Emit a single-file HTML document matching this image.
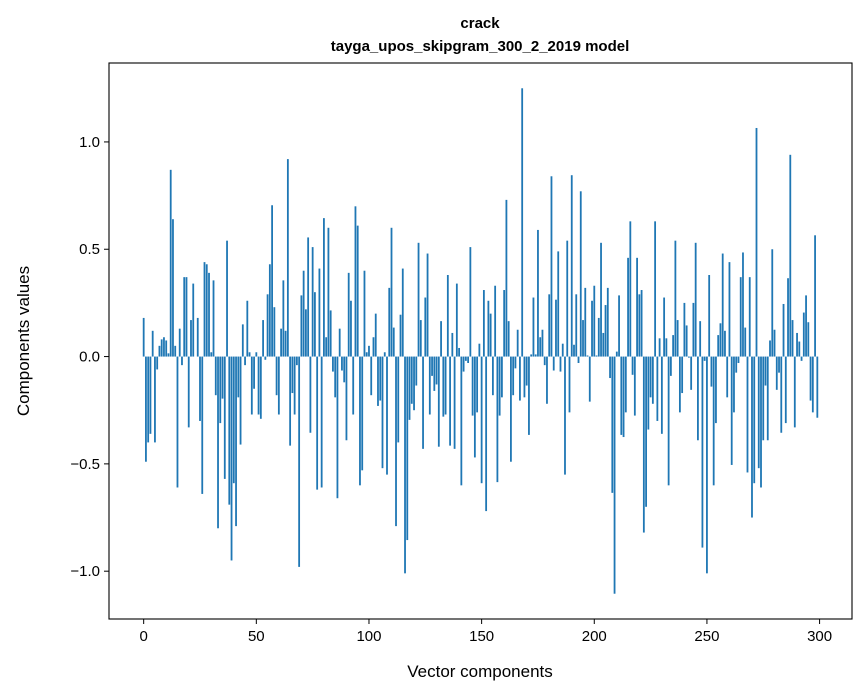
<!DOCTYPE html>
<html><head><meta charset="utf-8"><style>
body{margin:0;background:#fff;}
svg{display:block;font-family:"Liberation Sans",Arial,sans-serif;}
</style></head><body>
<svg id="chart" width="867" height="696" viewBox="0 0 867 696">
<rect width="867" height="696" fill="#fff"/>
<text x="480" y="28" text-anchor="middle" font-size="15" font-weight="bold">crack</text>
<text x="480" y="51" text-anchor="middle" font-size="15" font-weight="bold">tayga_upos_skipgram_300_2_2019 model</text>
<g id="bars"></g>
<g id="axes"></g>
<text x="480" y="677" text-anchor="middle" font-size="17">Vector components</text>
<text transform="translate(29,341) rotate(-90)" text-anchor="middle" font-size="17">Components values</text>
</svg>
<script>
const values = [0.18,-0.49,-0.40,-0.36,0.12,-0.40,-0.06,0.05,0.08,0.09,0.075,0.015,0.87,0.64,0.05,-0.61,0.13,-0.04,0.37,0.37,-0.33,0.17,0.34,0.0,0.18,-0.30,-0.64,0.44,0.43,0.39,0.02,0.355,-0.18,-0.80,-0.31,-0.196,-0.57,0.54,-0.69,-0.95,-0.59,-0.79,-0.19,-0.41,0.15,-0.04,0.26,0.02,-0.27,-0.15,
0.02,-0.27,-0.29,0.17,-0.015,0.29,0.43,0.705,0.23,-0.18,-0.27,0.13,0.355,0.12,0.92,-0.415,-0.17,-0.27,-0.04,-0.98,0.285,0.40,0.22,0.555,-0.355,0.51,0.30,-0.62,0.41,-0.61,0.645,0.09,0.60,0.215,-0.07,-0.19,-0.66,0.13,-0.065,-0.12,-0.39,0.39,0.26,-0.27,0.70,0.61,-0.60,-0.53,0.40,0.02,
0.05,-0.18,0.09,0.20,-0.23,-0.205,-0.52,0.02,-0.55,0.32,0.60,0.135,-0.79,-0.40,0.195,0.41,-1.01,-0.855,-0.295,-0.22,-0.25,-0.135,0.53,0.17,-0.43,0.275,0.48,-0.27,-0.09,-0.16,-0.13,-0.42,0.165,-0.28,-0.27,0.38,-0.415,0.11,-0.43,0.34,0.04,-0.60,-0.07,-0.02,-0.03,0.51,-0.275,-0.47,-0.26,0.06,
-0.59,0.31,-0.72,0.26,0.20,-0.18,0.33,-0.585,-0.275,-0.19,0.31,0.73,0.165,-0.49,-0.18,-0.055,0.125,-0.205,1.25,-0.19,-0.135,-0.365,0.01,0.275,0.01,0.59,0.09,0.125,-0.04,-0.22,0.29,0.84,-0.065,0.265,0.49,-0.07,0.06,-0.55,0.54,-0.26,0.845,0.055,0.29,-0.03,0.77,0.17,0.32,0.005,-0.21,0.26,
0.33,0.005,0.18,0.53,0.11,0.24,0.32,-0.10,-0.635,-1.105,0.023,0.285,-0.365,-0.375,-0.26,0.46,0.63,-0.085,-0.275,0.46,0.29,0.31,-0.82,-0.70,-0.34,-0.19,-0.22,0.63,-0.30,0.085,-0.36,0.275,0.085,-0.60,-0.09,0.10,0.54,0.17,-0.26,-0.17,0.25,0.145,-0.005,-0.155,0.25,0.53,-0.39,0.165,-0.89,-0.02,
-1.01,0.38,-0.14,-0.60,-0.31,0.10,0.155,0.48,0.12,-0.19,0.44,-0.505,-0.26,-0.075,-0.03,0.37,0.485,0.135,-0.54,0.37,-0.75,-0.59,1.065,-0.52,-0.61,-0.39,-0.135,-0.39,0.075,0.50,0.125,-0.155,-0.075,-0.355,0.245,-0.31,0.365,0.94,0.17,-0.33,0.11,0.07,-0.02,0.205,0.285,0.16,-0.205,-0.26,0.565,-0.285];
const xTicks = [0,50,100,150,200,250,300];
const yTicks = [-1.0,-0.5,0.0,0.5,1.0];
const yTickLabels = ["\u22121.0","\u22120.5","0.0","0.5","1.0"];

const L=109,R=852,T=63,B=619;
const n=values.length;
let vmin=Math.min(...values,0), vmax=Math.max(...values,0);
const ym=(vmax-vmin)*0.05;
const y0=vmin-ym, y1=vmax+ym;
const x0=-0.4-(n-0.2)*0.05, x1=n-0.6+(n-0.2)*0.05;
const sx=v=>L+(v-x0)/(x1-x0)*(R-L);
const sy=v=>B-(v-y0)/(y1-y0)*(B-T);
const NS="http://www.w3.org/2000/svg";
const bars=document.getElementById('bars');
values.forEach((v,i)=>{
  const r=document.createElementNS(NS,'rect');
  const a=sx(i-0.4), b=sx(i+0.4);
  r.setAttribute('x',a); r.setAttribute('width',b-a);
  r.setAttribute('y',Math.min(sy(v),sy(0))); r.setAttribute('height',Math.abs(sy(v)-sy(0)));
  r.setAttribute('fill','#1f77b4');
  
  
  bars.appendChild(r);
});
const axes=document.getElementById('axes');
function add(tag,attrs,txt){const e=document.createElementNS(NS,tag);for(const k in attrs)e.setAttribute(k,attrs[k]);if(txt!==undefined)e.textContent=txt;axes.appendChild(e);return e;}
const frame=add('rect',{x:L,y:T,width:R-L,height:B-T,fill:'none',stroke:'#000','stroke-width':1.1});


xTicks.forEach(t=>{
  const x=sx(t);
  const l=add('line',{x1:x,x2:x,y1:B,y2:B+5,stroke:'#000','stroke-width':1});
  
  
  const tx=add('text',{x:x,y:B+22,'text-anchor':'middle','font-size':15},String(t));
  
  
});
yTicks.forEach((t,i)=>{
  const y=sy(t);
  const l=add('line',{x1:L-5,x2:L,y1:y,y2:y,stroke:'#000','stroke-width':1});
  
  
  const tx=add('text',{x:L-9,y:y+5,'text-anchor':'end','font-size':15},yTickLabels[i]);
  
  
});
</script>
</body></html>
